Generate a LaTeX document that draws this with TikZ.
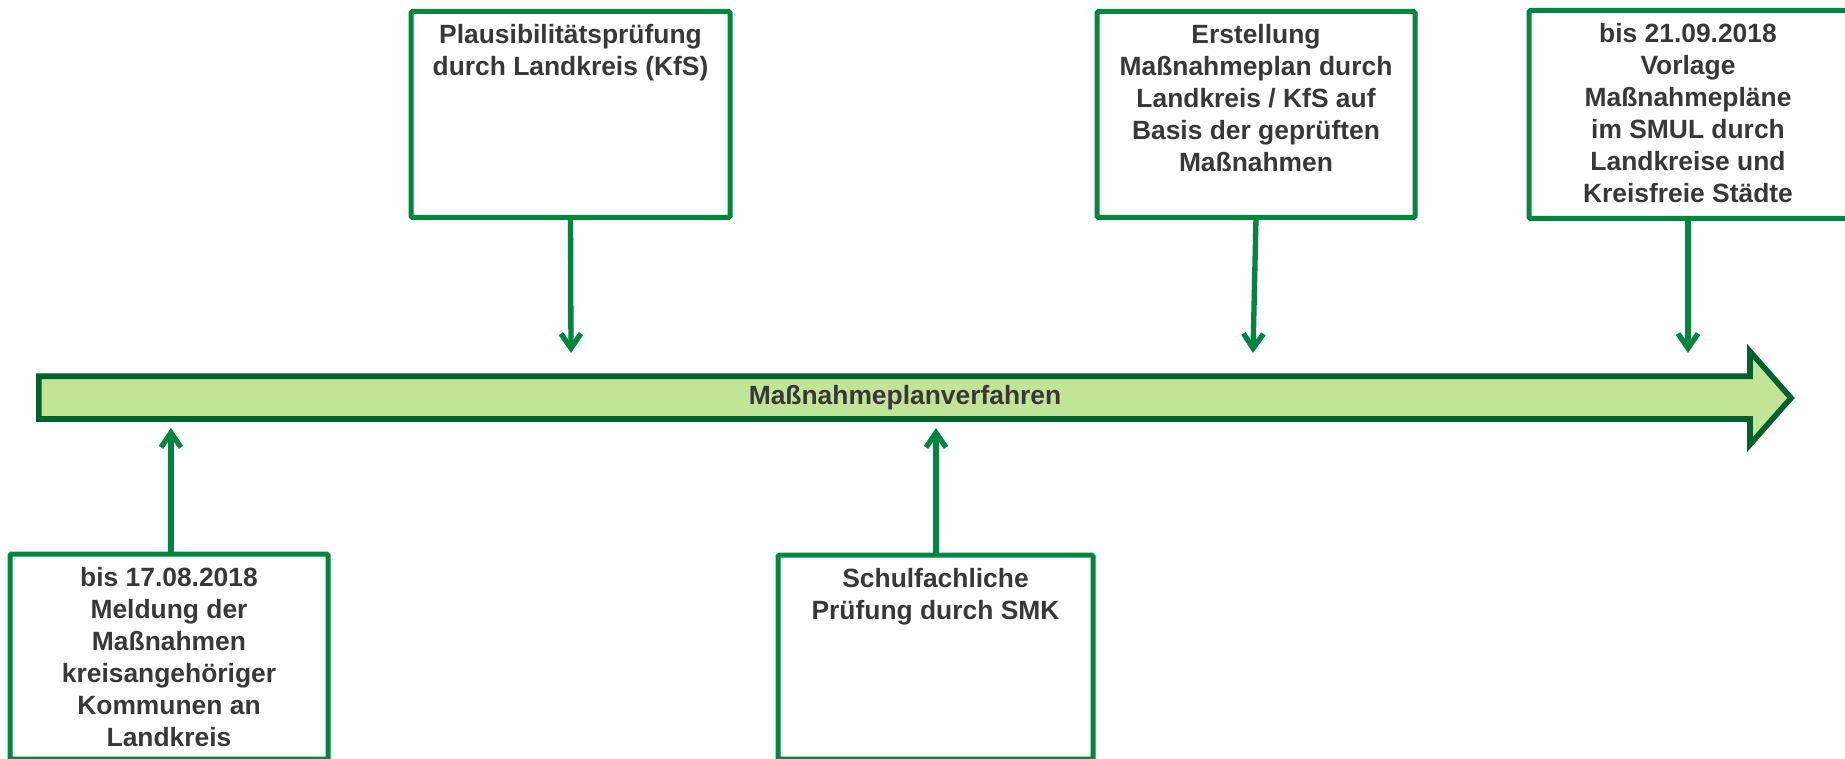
\documentclass[tikz,border=0pt]{standalone}
\usepackage{fontspec}
\setmainfont{Liberation Sans}
\usetikzlibrary{arrows.meta,calc}
\definecolor{boxgreen}{RGB}{0,134,62}
\definecolor{darkgreen}{RGB}{0,97,45}
\definecolor{fillgreen}{RGB}{193,228,150}
\definecolor{textgray}{RGB}{56,56,56}
\begin{document}
\begin{tikzpicture}[x=0.75pt,y=-0.75pt,
  box/.style={draw=boxgreen,line width=3.75pt,fill=white,rounded corners=1pt,inner sep=0pt,outer sep=0pt},
  boxtext/.style={anchor=north,align=center,inner sep=0pt,text=textgray,font=\fontsize{19.8pt}{24pt}\selectfont\bfseries},
  maintext/.style={inner sep=0pt,text=textgray,font=\fontsize{19.8pt}{24pt}\selectfont\bfseries},
  conn/.style={draw=boxgreen,line width=4pt,-{Straight Barb[length=11pt,width=15pt]}},
  timeline/.style={draw=darkgreen,fill=fillgreen,line width=4.2pt,line join=miter}
]
\clip (0,0) rectangle (1845,759);
\fill[white] (0,0) rectangle (1845,759);

% main timeline arrow
\draw[timeline] (38.8,376.2) -- (1750,376.2) -- (1750,351.5) -- (1791,398) -- (1750,444.5) -- (1750,419) -- (38.8,419) -- cycle;
\node[maintext] (lbl) at (905,398) {Maßnahmeplanverfahren};

% boxes
\node[box,minimum width=238.5pt,minimum height=153.75pt] (b1) at (169,656.5) {};
\node[box,minimum width=239.25pt,minimum height=154.5pt] (b2) at (570.5,114.5) {};
\node[box,minimum width=238.5pt,minimum height=154.5pt] (b3) at (1256,114.5) {};
\node[box,minimum width=242.25pt,minimum height=156pt] (b4) at (1690.5,114.5) {};
\node[box,minimum width=236.25pt,minimum height=153pt] (b5) at (935.5,657) {};

% texts
\node[boxtext] (tx1) at ($(b1.north)+(0,13)$) {bis 17.08.2018\\Meldung der\\Maßnahmen\\kreisangehöriger\\Kommunen an\\Landkreis};
\node[boxtext] (tx2) at ($(b2.north)+(0,13)$) {Plausibilitätsprüfung\\durch Landkreis (KfS)};
\node[boxtext] (tx3) at ($(b3.north)+(0,13)$) {Erstellung\\Maßnahmeplan durch\\Landkreis / KfS auf\\Basis der geprüften\\Maßnahmen};
\node[boxtext] (tx4) at ($(b4.north)+(-2.5,13)$) {bis 21.09.2018\\Vorlage\\Maßnahmepläne\\im SMUL durch\\Landkreise und\\Kreisfreie Städte};
\node[boxtext] (tx5) at ($(b5.north)+(0,13)$) {Schulfachliche\\Prüfung durch SMK};

% connector tips
\coordinate (t1) at (171,428);
\coordinate (t2) at (571,353);
\coordinate (t3) at (1253,353);
\coordinate (t4) at (1688,353);
\coordinate (t5) at (936,428);

\draw[conn] (t1 |- b1.north) -- (t1);
\draw[conn] (b2.south) -- (t2);
\draw[conn] (b3.south) -- (t3);
\draw[conn] (t4 |- b4.south) -- (t4);
\draw[conn] (t5 |- b5.north) -- (t5);
\end{tikzpicture}
\end{document}
